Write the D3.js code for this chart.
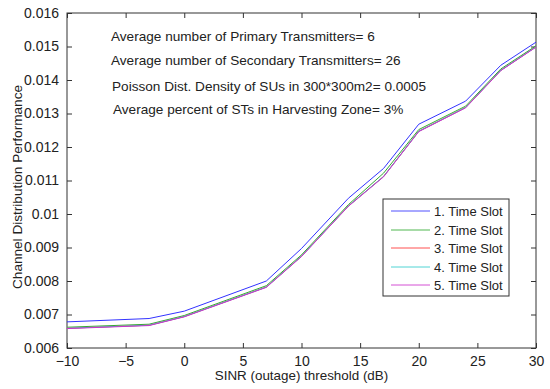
<!DOCTYPE html>
<html>
<head>
<meta charset="utf-8">
<script src="https://cdnjs.cloudflare.com/ajax/libs/d3/7.8.5/d3.min.js"></script>
<style>
  body { margin: 0; background: #fff; }
  svg text { font-family: "Liberation Sans", Arial, sans-serif; fill: #222; }
</style>
</head>
<body>
<div id="chart"></div>
<script>
// SINR thresholds (dB)
var sinr = [-10, -3, 0, 7, 10, 14, 17, 20, 24, 27, 30];
// channel distribution performance for each time slot
var slot1 = [0.00678, 0.00688, 0.00710, 0.00800, 0.00897, 0.01047, 0.01136, 0.01268, 0.01337, 0.01444, 0.01513];
var slot2 = [0.00662, 0.00671, 0.00697, 0.00786, 0.00878, 0.01028, 0.01122, 0.01252, 0.01322, 0.01433, 0.01502];
var slot3 = [0.00659, 0.00668, 0.00694, 0.00782, 0.00874, 0.01024, 0.01112, 0.01247, 0.01318, 0.01429, 0.01499];
var slot4 = [0.00659, 0.00668, 0.00694, 0.00782, 0.00874, 0.01024, 0.01112, 0.01247, 0.01318, 0.01429, 0.01499];
var slot5 = [0.00658, 0.00667, 0.00693, 0.00781, 0.00873, 0.01023, 0.01111, 0.01246, 0.01317, 0.01428, 0.01498];
var seriesNames = ["1. Time Slot", "2. Time Slot", "3. Time Slot", "4. Time Slot", "5. Time Slot"];
var seriesColors = ["#3333ff", "#33aa33", "#ff3333", "#33cccc", "#cc33cc"];
var xTicks = [-10, -5, 0, 5, 10, 15, 20, 25, 30];
var yTicks = [0.006, 0.007, 0.008, 0.009, 0.01, 0.011, 0.012, 0.013, 0.014, 0.015, 0.016];
var notes = [
  "Average number of Primary Transmitters= 6",
  "Average number of Secondary Transmitters= 26",
  "Poisson Dist. Density of SUs in 300*300m2= 0.0005",
  "Average percent of STs in Harvesting Zone= 3%"
];

var W = 550, H = 389;
var margin = { top: 13, right: 14, bottom: 41, left: 67 };
var width = W - margin.left - margin.right;
var height = H - margin.top - margin.bottom;

var svg = d3.select("#chart").append("svg")
  .attr("width", W).attr("height", H);
var g = svg.append("g")
  .attr("transform", "translate(" + margin.left + "," + margin.top + ")");

var x = d3.scaleLinear().domain([-10, 30]).range([0, width]);
var y = d3.scaleLinear().domain([0.006, 0.016]).range([height, 0]);

var axisColor = "#333";

// ticks pointing inwards, on all four sides
function styleAxis(sel) {
  sel.select(".domain").remove();
  sel.selectAll(".tick line").attr("stroke", axisColor);
  sel.selectAll(".tick text").style("font-size", "14px");
}

g.append("g")
  .attr("transform", "translate(0," + height + ")")
  .call(d3.axisBottom(x).tickValues(xTicks).tickSizeInner(-5).tickSizeOuter(0).tickPadding(8)
    .tickFormat(function(d) { return d < 0 ? "\u2212" + Math.abs(d) : d; }))
  .call(styleAxis);

g.append("g")
  .call(d3.axisTop(x).tickValues(xTicks).tickSizeInner(-5).tickSizeOuter(0).tickFormat(""))
  .call(styleAxis);

g.append("g")
  .call(d3.axisLeft(y).tickValues(yTicks).tickSizeInner(-5).tickSizeOuter(0).tickPadding(8)
    .tickFormat(function(d) { return d3.format("")(+d.toFixed(3)); }))
  .call(styleAxis);

g.append("g")
  .attr("transform", "translate(" + width + ",0)")
  .call(d3.axisRight(y).tickValues(yTicks).tickSizeInner(-5).tickSizeOuter(0).tickFormat(""))
  .call(styleAxis);

// box
g.append("rect")
  .attr("width", width).attr("height", height)
  .attr("fill", "none").attr("stroke", axisColor).attr("stroke-width", 1);

// lines
var allSeries = [slot1, slot2, slot3, slot4, slot5];
var line = d3.line()
  .x(function(d, i) { return x(sinr[i]); })
  .y(function(d) { return y(d); });

allSeries.forEach(function(s, k) {
  g.append("path")
    .datum(s)
    .attr("fill", "none")
    .attr("stroke", seriesColors[k])
    .attr("stroke-width", 1)
    .attr("d", line);
});

// annotations
var noteX = [44, 44, 45, 46];
var noteY = [23.7, 47.7, 73.7, 96.3];
notes.forEach(function(t, i) {
  g.append("text")
    .attr("x", noteX[i]).attr("y", noteY[i])
    .attr("dy", "0.35em")
    .style("font-size", "13.6px")
    .text(t);
});

// legend
var lg = g.append("g").attr("transform", "translate(" + (383 - margin.left) + "," + (199 - margin.top) + ")");
lg.append("rect")
  .attr("width", 126).attr("height", 97)
  .attr("fill", "#fff").attr("stroke", axisColor);
seriesNames.forEach(function(name, i) {
  var ly = Math.round(12 + i * 18.5);
  lg.append("line")
    .attr("x1", 8).attr("x2", 47)
    .attr("y1", ly).attr("y2", ly)
    .attr("stroke", seriesColors[i])
    .attr("stroke-opacity", 0.85);
  lg.append("text")
    .attr("x", 51).attr("y", ly).attr("dy", "0.35em")
    .style("font-size", "13px")
    .text(name);
});

// axis labels
svg.append("text")
  .attr("x", margin.left + width / 2).attr("y", 375)
  .attr("dy", "0.35em")
  .attr("text-anchor", "middle")
  .style("font-size", "13.4px")
  .text("SINR (outage) threshold (dB)");

svg.append("text")
  .attr("transform", "translate(17,187) rotate(-90)")
  .attr("dy", "0.35em")
  .attr("text-anchor", "middle")
  .style("font-size", "13.6px")
  .text("Channel Distribution Performance");
</script>
</body>
</html>
